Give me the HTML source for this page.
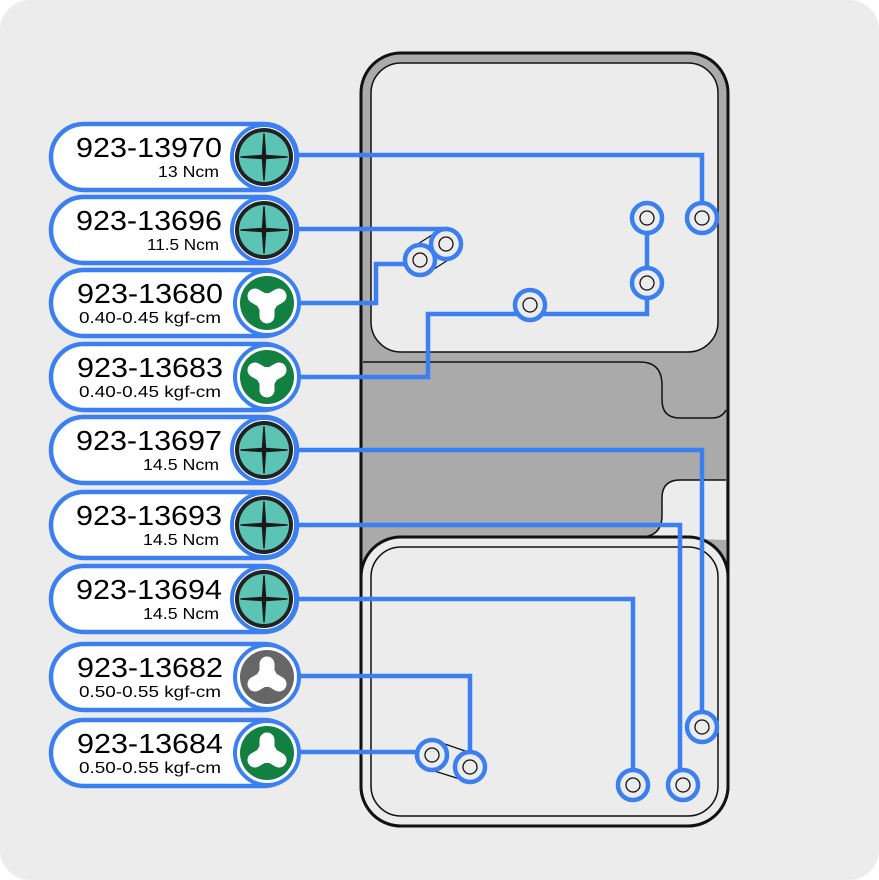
<!DOCTYPE html>
<html><head><meta charset="utf-8"><style>
html,body{margin:0;padding:0;background:#fff;}
svg{display:block;font-family:"Liberation Sans",sans-serif;}
</style></head><body>
<svg width="879" height="880" viewBox="0 0 879 880" xmlns="http://www.w3.org/2000/svg">
<defs>
<g id="tri1" stroke="#fff" stroke-width="15" stroke-linecap="round"><circle r="10" fill="#fff" stroke="none"/>
<line x1="0" y1="0" x2="-12" y2="-7"/><line x1="0" y1="0" x2="12" y2="-7"/><line x1="0" y1="0" x2="0" y2="13"/></g>
<g id="tri2" transform="rotate(180)"><use href="#tri1"/></g>
<g id="ph"><circle r="29" fill="#222"/><circle r="25" fill="#5bc4b4"/>
<path d="M0,-23 L1.5,-1.5 L23,0 L1.5,1.5 L0,23 L-1.5,1.5 L-23,0 L-1.5,-1.5 Z" fill="#1a1a1a" stroke="#1a1a1a" stroke-width="1.5" stroke-linejoin="round"/></g>
<g id="hole"><circle r="15" fill="#ececec" stroke="#3b7ff0" stroke-width="4.5"/><circle r="7" fill="none" stroke="#111" stroke-width="1.3"/></g>
</defs>
<rect x="0" y="0" width="879" height="880" rx="30" fill="#ececec"/>
<rect x="361" y="53" width="367" height="773" rx="40" fill="#aaa" stroke="#111" stroke-width="3"/>
<rect x="371" y="63" width="347" height="289" rx="30" fill="#ececec" stroke="#111" stroke-width="1.5"/>
<path d="M363,362 L640,362 Q662,362 662,385 L662,400 Q662,418 680,418 L712,418 Q722,418 726,410" fill="none" stroke="#111" stroke-width="1.5"/>
<path d="M662,498 Q662,480 680,480 L726,480 L726,540 L640,537 Q662,537 662,515 Z" fill="#ececec"/>
<path d="M726,480 L680,480 Q662,480 662,498 L662,515 Q662,537 640,537" fill="none" stroke="#111" stroke-width="1.5"/>
<rect x="361" y="537" width="367" height="289" rx="40" fill="#ececec" stroke="#111" stroke-width="3"/>
<rect x="371" y="547" width="347" height="269" rx="30" fill="#ececec" stroke="#111" stroke-width="1.5"/>
<g stroke="#111" stroke-width="1.3"><line x1="413" y1="247" x2="440" y2="230"/><line x1="426" y1="274" x2="453" y2="257"/>
<line x1="436" y1="741" x2="474" y2="754"/><line x1="428" y1="769" x2="466" y2="781"/></g>
<g fill="none" stroke="#3b7ff0" stroke-width="4.5">
<polyline points="296,155 702,155 702,218"/>
<polyline points="296,229 446,229 446,244"/>
<polyline points="296,303 376,303 376,264 420,264"/>
<polyline points="296,377 428,377 428,314 647,314 647,218"/>
<polyline points="296,450 702,450 702,727"/>
<polyline points="296,525 680,525 680,785"/>
<polyline points="296,599 633,599 633,785"/>
<polyline points="296,676 470,676 470,767"/>
<polyline points="296,752 432,752"/>
</g>
<use href="#hole" x="702" y="218"/><use href="#hole" x="647" y="218"/><use href="#hole" x="647" y="283"/>
<use href="#hole" x="530" y="305"/><use href="#hole" x="446" y="244"/><use href="#hole" x="420" y="260"/>
<use href="#hole" x="702" y="727"/><use href="#hole" x="683" y="785"/><use href="#hole" x="633" y="785"/>
<use href="#hole" x="470" y="767"/><use href="#hole" x="432" y="755"/>
<g>
<g transform="translate(0,157)"><rect x="51" y="-33" width="246" height="66" rx="33" fill="#fff" stroke="#3b7ff0" stroke-width="4.5"/><circle cx="264" r="32" fill="#fff" stroke="#3b7ff0" stroke-width="4"/><use href="#ph" x="264" y="0"/>
<text x="222" y="0" font-size="28" text-anchor="end" textLength="146" lengthAdjust="spacingAndGlyphs">923-13970</text><text x="219" y="20" font-size="16" text-anchor="end" textLength="61" lengthAdjust="spacingAndGlyphs">13 Ncm</text></g>
<g transform="translate(0,230)"><rect x="51" y="-33" width="246" height="66" rx="33" fill="#fff" stroke="#3b7ff0" stroke-width="4.5"/><circle cx="264" r="32" fill="#fff" stroke="#3b7ff0" stroke-width="4"/><use href="#ph" x="264" y="0"/>
<text x="222" y="0" font-size="28" text-anchor="end" textLength="146" lengthAdjust="spacingAndGlyphs">923-13696</text><text x="219" y="20" font-size="16" text-anchor="end" textLength="72" lengthAdjust="spacingAndGlyphs">11.5 Ncm</text></g>
<g transform="translate(0,303)"><rect x="51" y="-33" width="246" height="66" rx="33" fill="#fff" stroke="#3b7ff0" stroke-width="4.5"/><circle cx="267" r="32" fill="#fff" stroke="#3b7ff0" stroke-width="4"/><circle cx="267" r="27" fill="#118040"/><use href="#tri1" x="267" y="0"/>
<text x="223" y="0" font-size="28" text-anchor="end" textLength="146" lengthAdjust="spacingAndGlyphs">923-13680</text><text x="221" y="20" font-size="16" text-anchor="end" textLength="142" lengthAdjust="spacingAndGlyphs">0.40-0.45 kgf-cm</text></g>
<g transform="translate(0,377)"><rect x="51" y="-33" width="246" height="66" rx="33" fill="#fff" stroke="#3b7ff0" stroke-width="4.5"/><circle cx="267" r="32" fill="#fff" stroke="#3b7ff0" stroke-width="4"/><circle cx="267" r="27" fill="#118040"/><use href="#tri1" x="267" y="0"/>
<text x="223" y="0" font-size="28" text-anchor="end" textLength="146" lengthAdjust="spacingAndGlyphs">923-13683</text><text x="221" y="20" font-size="16" text-anchor="end" textLength="142" lengthAdjust="spacingAndGlyphs">0.40-0.45 kgf-cm</text></g>
<g transform="translate(0,450)"><rect x="51" y="-33" width="246" height="66" rx="33" fill="#fff" stroke="#3b7ff0" stroke-width="4.5"/><circle cx="264" r="32" fill="#fff" stroke="#3b7ff0" stroke-width="4"/><use href="#ph" x="264" y="0"/>
<text x="222" y="0" font-size="28" text-anchor="end" textLength="146" lengthAdjust="spacingAndGlyphs">923-13697</text><text x="219" y="20" font-size="16" text-anchor="end" textLength="76" lengthAdjust="spacingAndGlyphs">14.5 Ncm</text></g>
<g transform="translate(0,525)"><rect x="51" y="-33" width="246" height="66" rx="33" fill="#fff" stroke="#3b7ff0" stroke-width="4.5"/><circle cx="264" r="32" fill="#fff" stroke="#3b7ff0" stroke-width="4"/><use href="#ph" x="264" y="0"/>
<text x="222" y="0" font-size="28" text-anchor="end" textLength="146" lengthAdjust="spacingAndGlyphs">923-13693</text><text x="219" y="20" font-size="16" text-anchor="end" textLength="76" lengthAdjust="spacingAndGlyphs">14.5 Ncm</text></g>
<g transform="translate(0,599)"><rect x="51" y="-33" width="246" height="66" rx="33" fill="#fff" stroke="#3b7ff0" stroke-width="4.5"/><circle cx="264" r="32" fill="#fff" stroke="#3b7ff0" stroke-width="4"/><use href="#ph" x="264" y="0"/>
<text x="222" y="0" font-size="28" text-anchor="end" textLength="146" lengthAdjust="spacingAndGlyphs">923-13694</text><text x="219" y="20" font-size="16" text-anchor="end" textLength="76" lengthAdjust="spacingAndGlyphs">14.5 Ncm</text></g>
<g transform="translate(0,677)"><rect x="51" y="-33" width="246" height="66" rx="33" fill="#fff" stroke="#3b7ff0" stroke-width="4.5"/><circle cx="267" r="32" fill="#fff" stroke="#3b7ff0" stroke-width="4"/><circle cx="267" r="27" fill="#666"/><use href="#tri2" x="267" y="0"/>
<text x="223" y="0" font-size="28" text-anchor="end" textLength="146" lengthAdjust="spacingAndGlyphs">923-13682</text><text x="221" y="20" font-size="16" text-anchor="end" textLength="142" lengthAdjust="spacingAndGlyphs">0.50-0.55 kgf-cm</text></g>
<g transform="translate(0,753)"><rect x="51" y="-33" width="246" height="66" rx="33" fill="#fff" stroke="#3b7ff0" stroke-width="4.5"/><circle cx="267" r="32" fill="#fff" stroke="#3b7ff0" stroke-width="4"/><circle cx="267" r="27" fill="#118040"/><use href="#tri2" x="267" y="0"/>
<text x="223" y="0" font-size="28" text-anchor="end" textLength="146" lengthAdjust="spacingAndGlyphs">923-13684</text><text x="221" y="20" font-size="16" text-anchor="end" textLength="142" lengthAdjust="spacingAndGlyphs">0.50-0.55 kgf-cm</text></g>
</g>
</svg>
</body></html>
